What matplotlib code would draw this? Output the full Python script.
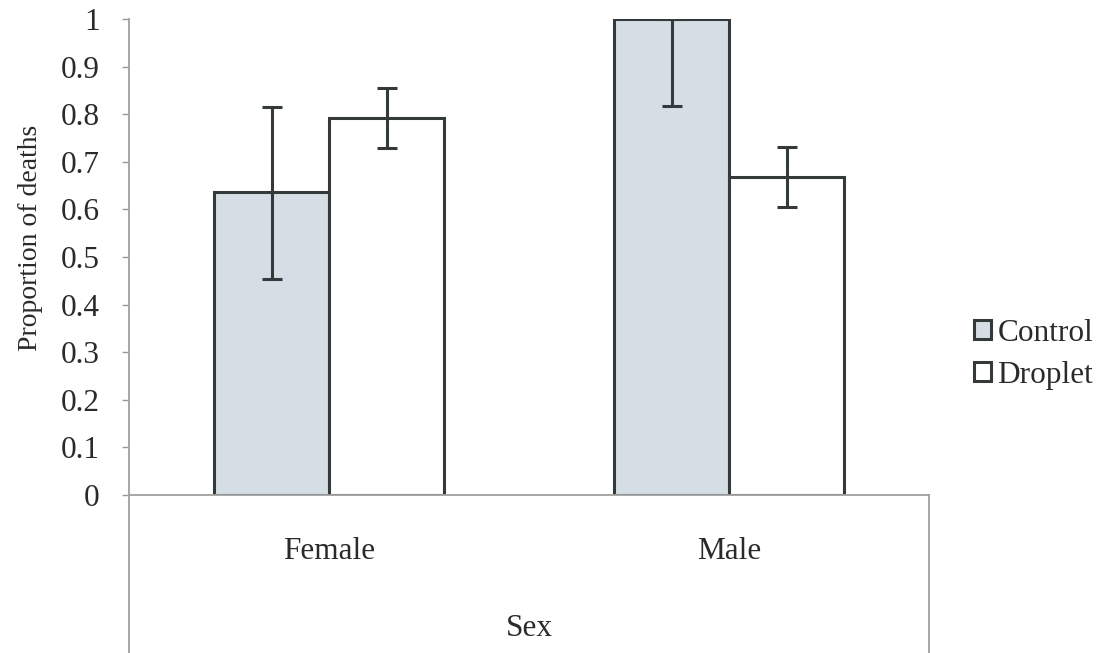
import numpy as np
import matplotlib
matplotlib.use('Agg')
import matplotlib.pyplot as plt
from matplotlib.patches import Patch

# data
sexes = ['Female', 'Male']
control = [0.636, 1.0]
control_lo = [0.454, 0.817]
control_hi = [0.816, 1.0]
droplet = [0.791, 0.668]
droplet_lo = [0.728, 0.605]
droplet_hi = [0.854, 0.731]

plt.rcParams['font.family'] = ['Liberation Serif', 'DejaVu Serif']
fig = plt.figure(figsize=(11.05, 6.53), dpi=100)
ax = fig.add_axes([129 / 1105, 1 - 495 / 653, 800 / 1105, 476 / 653])

x = np.arange(len(sexes))
w = 0.2875
edge = '#333a3a'
txt = '#2a2a2a'
c_err = [np.array(control) - np.array(control_lo), np.array(control_hi) - np.array(control)]
d_err = [np.array(droplet) - np.array(droplet_lo), np.array(droplet_hi) - np.array(droplet)]
ax.bar(x - w / 2, control, w, color='#d5dee4', edgecolor=edge, linewidth=2.2,
       yerr=c_err, error_kw=dict(ecolor=edge, elinewidth=2.2, capsize=7, capthick=2.2), zorder=2)
ax.bar(x + w / 2, droplet, w, color='white', edgecolor=edge, linewidth=2.2,
       yerr=d_err, error_kw=dict(ecolor=edge, elinewidth=2.2, capsize=7, capthick=2.2), zorder=2)

ax.set_xlim(-0.5, 1.5)
ax.set_ylim(0, 1)
ax.set_yticks(np.arange(0, 1.01, 0.1))
ax.set_yticklabels(['0'] + ['%.1f' % v for v in np.arange(0.1, 0.95, 0.1)] + ['1'])
ax.tick_params(axis='y', labelsize=22.5, length=5, width=1, color='#999999', pad=16,
               labelcolor=txt)
ax.set_xticks(x)
ax.set_xticklabels(sexes)
ax.tick_params(axis='x', labelsize=22.5, length=0, pad=30, labelcolor=txt)
for s in ['top', 'right']:
    ax.spines[s].set_visible(False)
for s in ['left', 'bottom']:
    ax.spines[s].set_color('#a0a0a0')
    ax.spines[s].set_linewidth(1.3)

# category box below the axis
ax.plot([0, 0], [0, -0.34], transform=ax.transAxes, color='#a0a0a0', lw=1.3, clip_on=False)
ax.plot([1, 1], [0, -0.34], transform=ax.transAxes, color='#a0a0a0', lw=1.3, clip_on=False)

ax.set_ylabel('Proportion of deaths', fontsize=20, color=txt)
ax.yaxis.set_label_coords(-0.107, 0.54)
ax.text(0.5, -0.28, 'Sex', transform=ax.transAxes, ha='center', va='center',
        fontsize=22.5, color=txt)

handles = [Patch(facecolor='#d5dee4', edgecolor=edge, linewidth=2.2, label='Control'),
           Patch(facecolor='white', edgecolor=edge, linewidth=2.2, label='Droplet')]
ax.legend(handles=handles, loc='center left', bbox_to_anchor=(1.021, 0.296), frameon=False,
          fontsize=22.5, handlelength=0.55, handleheight=0.55, handletextpad=0.2,
          labelspacing=0.42, labelcolor=txt)

fig.savefig('out.png', dpi=100, facecolor='white')
